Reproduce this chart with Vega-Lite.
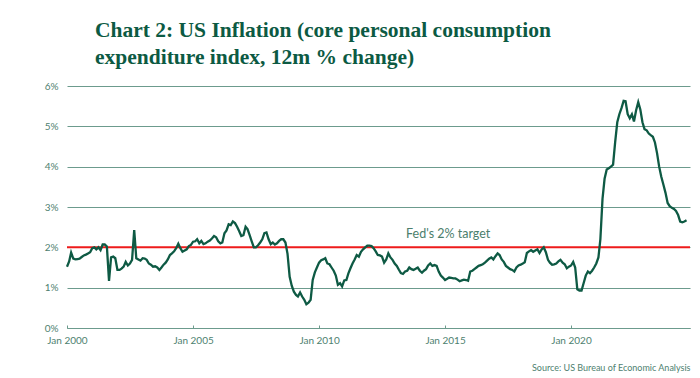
{
  "$schema": "https://vega.github.io/schema/vega-lite/v6.json",
  "width": 623,
  "height": 242,
  "autosize": {"type": "none"},
  "padding": {"left": 67, "top": 86, "right": 10, "bottom": 50},
  "background": "white",
  "title": {
    "text": ["Chart 2: US Inflation (core personal consumption", "expenditure index, 12m % change)"],
    "anchor": "start",
    "frame": "group",
    "dx": 28,
    "offset": 13,
    "font": "Liberation Serif",
    "fontSize": 21.5,
    "fontWeight": "bold",
    "color": "#0c5a43",
    "lineHeight": 27
  },
  "config": {
    "view": {"stroke": null},
    "axis": {
      "labelFont": "Lato",
      "labelFontSize": 10,
      "labelColor": "#4e7f6f",
      "titleFont": "Lato"
    }
  },
  "layer": [
    {
      "data": {"values": [{"target": 2}]},
      "mark": {"type": "rule", "color": "#ee1b1b", "strokeWidth": 2},
      "encoding": {"y": {"field": "target", "type": "quantitative"}}
    },
    {
      "data": {"values": [{"label": "Fed's 2% target", "d": "2015-02-15", "v": 2.23}]},
      "mark": {"type": "text", "font": "Lato", "fontSize": 12.5, "color": "#4b7e6c", "align": "center", "baseline": "alphabetic"},
      "encoding": {
        "x": {"field": "d", "type": "temporal"},
        "y": {"field": "v", "type": "quantitative"},
        "text": {"field": "label"}
      }
    },
    {
      "data": {"values": [
{"d":"2000-01","v":1.52},{"d":"2000-02","v":1.65},{"d":"2000-03","v":1.87},{"d":"2000-04","v":1.72},{"d":"2000-05","v":1.70},{"d":"2000-06","v":1.71},{"d":"2000-07","v":1.72},{"d":"2000-08","v":1.76},{"d":"2000-09","v":1.80},{"d":"2000-10","v":1.82},{"d":"2000-11","v":1.85},{"d":"2000-12","v":1.88},
{"d":"2001-01","v":1.98},{"d":"2001-02","v":2.00},{"d":"2001-03","v":1.95},{"d":"2001-04","v":2.00},{"d":"2001-05","v":1.93},{"d":"2001-06","v":2.07},{"d":"2001-07","v":2.07},{"d":"2001-08","v":2.02},{"d":"2001-09","v":1.17},{"d":"2001-10","v":1.75},{"d":"2001-11","v":1.77},{"d":"2001-12","v":1.73},
{"d":"2002-01","v":1.44},{"d":"2002-02","v":1.44},{"d":"2002-03","v":1.47},{"d":"2002-04","v":1.52},{"d":"2002-05","v":1.64},{"d":"2002-06","v":1.55},{"d":"2002-07","v":1.60},{"d":"2002-08","v":1.69},{"d":"2002-09","v":2.43},{"d":"2002-10","v":1.73},{"d":"2002-11","v":1.70},{"d":"2002-12","v":1.67},
{"d":"2003-01","v":1.73},{"d":"2003-02","v":1.72},{"d":"2003-03","v":1.69},{"d":"2003-04","v":1.60},{"d":"2003-05","v":1.57},{"d":"2003-06","v":1.52},{"d":"2003-07","v":1.53},{"d":"2003-08","v":1.50},{"d":"2003-09","v":1.44},{"d":"2003-10","v":1.50},{"d":"2003-11","v":1.57},{"d":"2003-12","v":1.62},
{"d":"2004-01","v":1.70},{"d":"2004-02","v":1.81},{"d":"2004-03","v":1.85},{"d":"2004-04","v":1.90},{"d":"2004-05","v":1.98},{"d":"2004-06","v":2.09},{"d":"2004-07","v":1.98},{"d":"2004-08","v":1.89},{"d":"2004-09","v":1.92},{"d":"2004-10","v":1.95},{"d":"2004-11","v":2.03},{"d":"2004-12","v":2.06},
{"d":"2005-01","v":2.14},{"d":"2005-02","v":2.15},{"d":"2005-03","v":2.20},{"d":"2005-04","v":2.10},{"d":"2005-05","v":2.16},{"d":"2005-06","v":2.08},{"d":"2005-07","v":2.10},{"d":"2005-08","v":2.14},{"d":"2005-09","v":2.17},{"d":"2005-10","v":2.22},{"d":"2005-11","v":2.28},{"d":"2005-12","v":2.25},
{"d":"2006-01","v":2.15},{"d":"2006-02","v":2.10},{"d":"2006-03","v":2.12},{"d":"2006-04","v":2.35},{"d":"2006-05","v":2.42},{"d":"2006-06","v":2.57},{"d":"2006-07","v":2.55},{"d":"2006-08","v":2.64},{"d":"2006-09","v":2.60},{"d":"2006-10","v":2.51},{"d":"2006-11","v":2.40},{"d":"2006-12","v":2.28},
{"d":"2007-01","v":2.30},{"d":"2007-02","v":2.51},{"d":"2007-03","v":2.45},{"d":"2007-04","v":2.30},{"d":"2007-05","v":2.15},{"d":"2007-06","v":2.00},{"d":"2007-07","v":2.00},{"d":"2007-08","v":2.05},{"d":"2007-09","v":2.12},{"d":"2007-10","v":2.20},{"d":"2007-11","v":2.35},{"d":"2007-12","v":2.37},
{"d":"2008-01","v":2.20},{"d":"2008-02","v":2.08},{"d":"2008-03","v":2.12},{"d":"2008-04","v":2.07},{"d":"2008-05","v":2.10},{"d":"2008-06","v":2.16},{"d":"2008-07","v":2.20},{"d":"2008-08","v":2.20},{"d":"2008-09","v":2.12},{"d":"2008-10","v":1.84},{"d":"2008-11","v":1.27},{"d":"2008-12","v":1.05},
{"d":"2009-01","v":0.90},{"d":"2009-02","v":0.82},{"d":"2009-03","v":0.78},{"d":"2009-04","v":0.88},{"d":"2009-05","v":0.78},{"d":"2009-06","v":0.70},{"d":"2009-07","v":0.59},{"d":"2009-08","v":0.63},{"d":"2009-09","v":0.70},{"d":"2009-10","v":1.19},{"d":"2009-11","v":1.38},{"d":"2009-12","v":1.50},
{"d":"2010-01","v":1.62},{"d":"2010-02","v":1.68},{"d":"2010-03","v":1.70},{"d":"2010-04","v":1.73},{"d":"2010-05","v":1.60},{"d":"2010-06","v":1.58},{"d":"2010-07","v":1.50},{"d":"2010-08","v":1.42},{"d":"2010-09","v":1.30},{"d":"2010-10","v":1.07},{"d":"2010-11","v":1.11},{"d":"2010-12","v":1.03},
{"d":"2011-01","v":1.18},{"d":"2011-02","v":1.19},{"d":"2011-03","v":1.35},{"d":"2011-04","v":1.48},{"d":"2011-05","v":1.60},{"d":"2011-06","v":1.70},{"d":"2011-07","v":1.81},{"d":"2011-08","v":1.77},{"d":"2011-09","v":1.89},{"d":"2011-10","v":1.95},{"d":"2011-11","v":2.00},{"d":"2011-12","v":2.04},
{"d":"2012-01","v":2.04},{"d":"2012-02","v":2.03},{"d":"2012-03","v":1.98},{"d":"2012-04","v":1.90},{"d":"2012-05","v":1.81},{"d":"2012-06","v":1.80},{"d":"2012-07","v":1.77},{"d":"2012-08","v":1.62},{"d":"2012-09","v":1.70},{"d":"2012-10","v":1.85},{"d":"2012-11","v":1.75},{"d":"2012-12","v":1.69},
{"d":"2013-01","v":1.60},{"d":"2013-02","v":1.54},{"d":"2013-03","v":1.45},{"d":"2013-04","v":1.36},{"d":"2013-05","v":1.34},{"d":"2013-06","v":1.40},{"d":"2013-07","v":1.42},{"d":"2013-08","v":1.50},{"d":"2013-09","v":1.46},{"d":"2013-10","v":1.44},{"d":"2013-11","v":1.47},{"d":"2013-12","v":1.50},
{"d":"2014-01","v":1.42},{"d":"2014-02","v":1.37},{"d":"2014-03","v":1.42},{"d":"2014-04","v":1.46},{"d":"2014-05","v":1.55},{"d":"2014-06","v":1.60},{"d":"2014-07","v":1.54},{"d":"2014-08","v":1.56},{"d":"2014-09","v":1.54},{"d":"2014-10","v":1.40},{"d":"2014-11","v":1.30},{"d":"2014-12","v":1.25},
{"d":"2015-01","v":1.19},{"d":"2015-02","v":1.22},{"d":"2015-03","v":1.25},{"d":"2015-04","v":1.24},{"d":"2015-05","v":1.23},{"d":"2015-06","v":1.23},{"d":"2015-07","v":1.20},{"d":"2015-08","v":1.16},{"d":"2015-09","v":1.18},{"d":"2015-10","v":1.20},{"d":"2015-11","v":1.19},{"d":"2015-12","v":1.17},
{"d":"2016-01","v":1.40},{"d":"2016-02","v":1.42},{"d":"2016-03","v":1.46},{"d":"2016-04","v":1.50},{"d":"2016-05","v":1.54},{"d":"2016-06","v":1.56},{"d":"2016-07","v":1.58},{"d":"2016-08","v":1.62},{"d":"2016-09","v":1.67},{"d":"2016-10","v":1.72},{"d":"2016-11","v":1.75},{"d":"2016-12","v":1.70},
{"d":"2017-01","v":1.78},{"d":"2017-02","v":1.85},{"d":"2017-03","v":1.81},{"d":"2017-04","v":1.70},{"d":"2017-05","v":1.64},{"d":"2017-06","v":1.54},{"d":"2017-07","v":1.50},{"d":"2017-08","v":1.46},{"d":"2017-09","v":1.44},{"d":"2017-10","v":1.40},{"d":"2017-11","v":1.50},{"d":"2017-12","v":1.55},
{"d":"2018-01","v":1.57},{"d":"2018-02","v":1.60},{"d":"2018-03","v":1.63},{"d":"2018-04","v":1.86},{"d":"2018-05","v":1.90},{"d":"2018-06","v":1.93},{"d":"2018-07","v":1.89},{"d":"2018-08","v":1.92},{"d":"2018-09","v":1.95},{"d":"2018-10","v":1.86},{"d":"2018-11","v":1.95},{"d":"2018-12","v":2.00},
{"d":"2019-01","v":1.88},{"d":"2019-02","v":1.69},{"d":"2019-03","v":1.62},{"d":"2019-04","v":1.57},{"d":"2019-05","v":1.58},{"d":"2019-06","v":1.60},{"d":"2019-07","v":1.65},{"d":"2019-08","v":1.69},{"d":"2019-09","v":1.62},{"d":"2019-10","v":1.58},{"d":"2019-11","v":1.48},{"d":"2019-12","v":1.52},
{"d":"2020-01","v":1.55},{"d":"2020-02","v":1.64},{"d":"2020-03","v":1.50},{"d":"2020-04","v":0.96},{"d":"2020-05","v":0.93},{"d":"2020-06","v":0.93},{"d":"2020-07","v":1.11},{"d":"2020-08","v":1.30},{"d":"2020-09","v":1.40},{"d":"2020-10","v":1.36},{"d":"2020-11","v":1.42},{"d":"2020-12","v":1.50},
{"d":"2021-01","v":1.60},{"d":"2021-02","v":1.75},{"d":"2021-03","v":2.20},{"d":"2021-04","v":3.20},{"d":"2021-05","v":3.70},{"d":"2021-06","v":3.93},{"d":"2021-07","v":3.96},{"d":"2021-08","v":4.00},{"d":"2021-09","v":4.05},{"d":"2021-10","v":4.60},{"d":"2021-11","v":5.10},{"d":"2021-12","v":5.30},
{"d":"2022-01","v":5.45},{"d":"2022-02","v":5.63},{"d":"2022-03","v":5.62},{"d":"2022-04","v":5.30},{"d":"2022-05","v":5.20},{"d":"2022-06","v":5.30},{"d":"2022-07","v":5.12},{"d":"2022-08","v":5.40},{"d":"2022-09","v":5.60},{"d":"2022-10","v":5.42},{"d":"2022-11","v":5.10},{"d":"2022-12","v":4.93},
{"d":"2023-01","v":4.90},{"d":"2023-02","v":4.82},{"d":"2023-03","v":4.78},{"d":"2023-04","v":4.74},{"d":"2023-05","v":4.60},{"d":"2023-06","v":4.33},{"d":"2023-07","v":4.00},{"d":"2023-08","v":3.75},{"d":"2023-09","v":3.55},{"d":"2023-10","v":3.35},{"d":"2023-11","v":3.10},{"d":"2023-12","v":3.02},
{"d":"2024-01","v":2.98},{"d":"2024-02","v":2.95},{"d":"2024-03","v":2.90},{"d":"2024-04","v":2.80},{"d":"2024-05","v":2.64},{"d":"2024-06","v":2.62},{"d":"2024-07","v":2.64},{"d":"2024-08","v":2.67}
      ]},
      "mark": {"type": "line", "color": "#0e5a44", "strokeWidth": 2.3},
      "encoding": {
        "x": {
          "field": "d", "type": "temporal",
          "scale": {"domain": ["2000-01-01", "2024-09-20"]},
          "axis": {
            "values": ["2000-01-01", "2005-01-01", "2010-01-01", "2015-01-01", "2020-01-01"],
            "format": "%b %Y",
            "labelAlign": "center",
            "grid": false,
            "domain": true,
            "domainColor": "#6c9b8d",
            "domainWidth": 1,
            "ticks": true,
            "tickColor": "#6c9b8d",
            "tickSize": -3,
            "labelPadding": 10,
            "title": "Source: US Bureau of Economic Analysis",
            "titleAnchor": "end",
            "titleAlign": "right",
            "titleFontSize": 9,
            "titleFontWeight": "normal",
            "titleColor": "#4e7f6f",
            "titlePadding": 18
          }
        },
        "y": {
          "field": "v", "type": "quantitative",
          "scale": {"domain": [0, 6]},
          "axis": {
            "values": [0, 1, 2, 3, 4, 5, 6],
            "labelExpr": "datum.value + '%'",
            "grid": true,
            "gridColor": "#6c9b8d",
            "gridWidth": 1,
            "domain": false,
            "ticks": false,
            "labelPadding": 9,
            "title": null
          }
        }
      }
    }
  ]
}
